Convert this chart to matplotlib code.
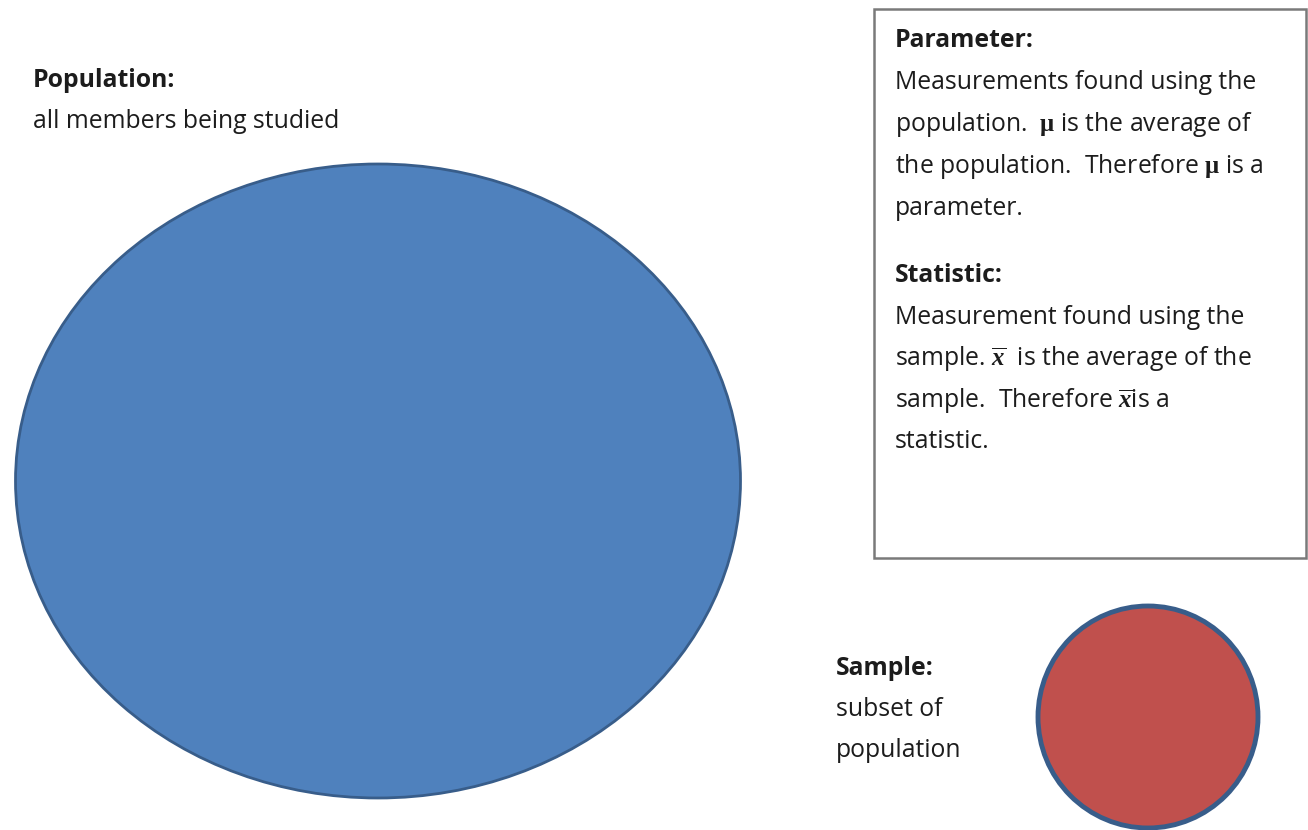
import matplotlib
matplotlib.use("Agg")
import matplotlib.pyplot as plt
from matplotlib.patches import Ellipse, Rectangle

plt.rcParams['mathtext.fontset'] = 'custom'
plt.rcParams['mathtext.rm'] = 'Liberation Serif'
plt.rcParams['mathtext.bf'] = 'Liberation Serif:bold'
plt.rcParams['mathtext.it'] = 'Liberation Serif:italic'
plt.rcParams['mathtext.bfit'] = 'Liberation Serif:italic:bold'

# ---- content ----
population_title = "Population:"
population_desc = ["all members being studied"]
sample_title = "Sample:"
sample_desc = ["subset of", "population"]
parameter_title = "Parameter:"
parameter_lines = [
    "Measurements found using the",
    r"population.  $\mathbf{\mu}$ is the average of",
    r"the population.  Therefore $\mathbf{\mu}$ is a",
    "parameter.",
]
statistic_title = "Statistic:"
statistic_lines = [
    "Measurement found using the",
    r"sample. $\overline{\mathbfit{x}}$  is the average of the",
    r"sample.  Therefore $\overline{\mathbfit{x}}$is a",
    "statistic.",
]

W, H = 1308, 830
fig = plt.figure(figsize=(W / 100, H / 100), dpi=100)
ax = fig.add_axes([0, 0, 1, 1])
ax.set_xlim(0, W)
ax.set_ylim(H, 0)
ax.axis('off')

FONT = 'Open Sans'
FS = 17.8
TXT = '#1c1c1c'

# population ellipse
ax.add_patch(Ellipse((378, 481), 725, 634, facecolor='#4F81BD',
                     edgecolor='#385D8A', lw=2))
# sample circle
ax.add_patch(Ellipse((1148, 717), 220, 222, facecolor='#C0504D',
                     edgecolor='#385D8A', lw=3.5))
# text box
ax.add_patch(Rectangle((874, 9), 432, 549, facecolor='white',
                       edgecolor='#7a7a7a', lw=1.8))

def block(x, y0, title, lines, step):
    ax.text(x, y0, title, fontsize=FS, fontweight='bold', family=FONT,
            color=TXT, va='baseline', ha='left')
    for i, s in enumerate(lines):
        ax.text(x, y0 + step * (i + 1), s, fontsize=FS, family=FONT,
                color=TXT, va='baseline', ha='left')

block(33, 87, population_title, population_desc, 41)
block(836, 675, sample_title, sample_desc, 41)
block(895, 47, parameter_title, parameter_lines, 42)
block(895, 282, statistic_title, statistic_lines, 41.5)

fig.savefig('out.png', dpi=100)
